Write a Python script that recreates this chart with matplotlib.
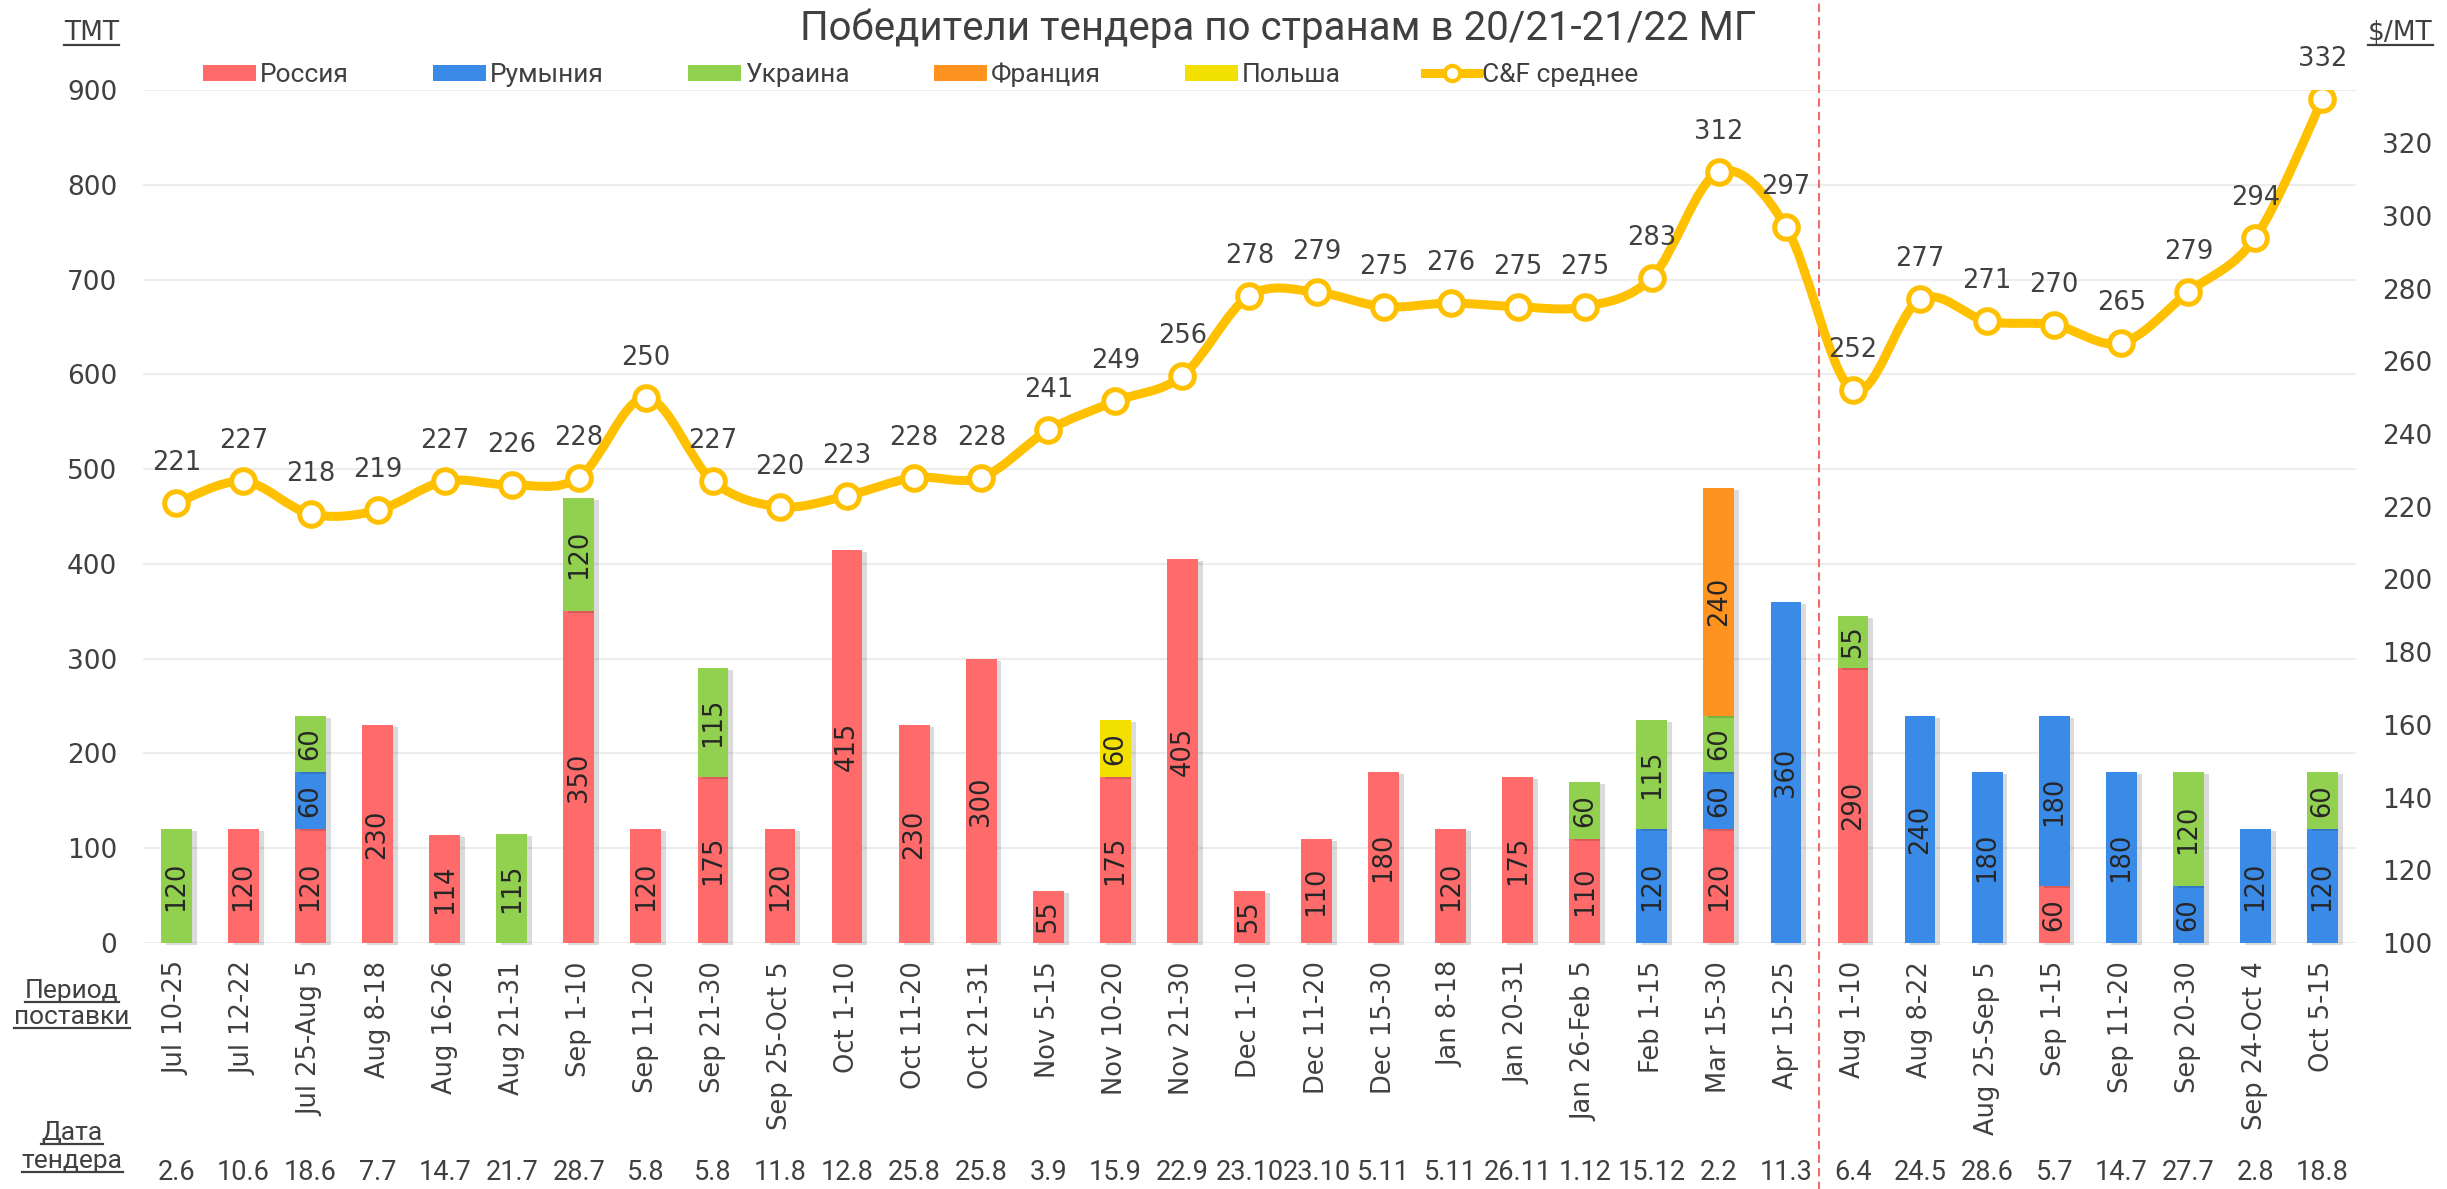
import numpy as np
import matplotlib
matplotlib.use("Agg")
import matplotlib.pyplot as plt
from matplotlib import patheffects as pe
from matplotlib.patches import Patch, PathPatch
from matplotlib.lines import Line2D
from matplotlib.path import Path
import matplotlib.transforms as mtransforms

# ---------------- data ----------------
periods = ["Jul 10-25", "Jul 12-22", "Jul 25-Aug 5", "Aug 8-18", "Aug 16-26", "Aug 21-31",
           "Sep 1-10", "Sep 11-20", "Sep 21-30", "Sep 25-Oct 5", "Oct 1-10", "Oct 11-20",
           "Oct 21-31", "Nov 5-15", "Nov 10-20", "Nov 21-30", "Dec 1-10", "Dec 11-20",
           "Dec 15-30", "Jan 8-18", "Jan 20-31", "Jan 26-Feb 5", "Feb 1-15", "Mar 15-30",
           "Apr 15-25", "Aug 1-10", "Aug 8-22", "Aug 25-Sep 5", "Sep 1-15", "Sep 11-20",
           "Sep 20-30", "Sep 24-Oct 4", "Oct 5-15"]
tender_dates = ["2.6", "10.6", "18.6", "7.7", "14.7", "21.7", "28.7", "5.8", "5.8", "11.8",
                "12.8", "25.8", "25.8", "3.9", "15.9", "22.9", "23.10", "23.10", "5.11", "5.11",
                "26.11", "1.12", "15.12", "2.2", "11.3", "6.4", "24.5", "28.6", "5.7", "14.7",
                "27.7", "2.8", "18.8"]
russia = [0, 120, 120, 230, 114, 0, 350, 120, 175, 120, 415, 230, 300, 55, 175, 405, 55, 110,
          180, 120, 175, 110, 0, 120, 0, 290, 0, 0, 60, 0, 0, 0, 0]
romania = [0, 0, 60, 0, 0, 0, 0, 0, 0, 0, 0, 0, 0, 0, 0, 0, 0, 0,
           0, 0, 0, 0, 120, 60, 360, 0, 240, 180, 180, 180, 60, 120, 120]
ukraine = [120, 0, 60, 0, 0, 115, 120, 0, 115, 0, 0, 0, 0, 0, 0, 0, 0, 0,
           0, 0, 0, 60, 115, 60, 0, 55, 0, 0, 0, 0, 120, 0, 60]
france = [0, 0, 0, 0, 0, 0, 0, 0, 0, 0, 0, 0, 0, 0, 0, 0, 0, 0,
          0, 0, 0, 0, 0, 240, 0, 0, 0, 0, 0, 0, 0, 0, 0]
poland = [0, 0, 0, 0, 0, 0, 0, 0, 0, 0, 0, 0, 0, 0, 60, 0, 0, 0,
          0, 0, 0, 0, 0, 0, 0, 0, 0, 0, 0, 0, 0, 0, 0]
cf_avg = [221, 227, 218, 219, 227, 226, 228, 250, 227, 220, 223, 228, 228, 241, 249, 256, 278,
          279, 275, 276, 275, 275, 283, 312, 297, 252, 277, 271, 270, 265, 279, 294, 332]

series_names = ["Россия", "Румыния", "Украина", "Франция", "Польша"]
series_vals = [russia, romania, ukraine, france, poland]
series_colors = ["#FF6B6B", "#3A8AE8", "#92D050", "#FF9320", "#F2E000"]
line_color = "#FFC000"
text_color = "#404040"
split_color = "#F26A6A"

plt.rcParams["font.family"] = ["DejaVu Sans"]
cond_font = ["Roboto", "DejaVu Sans"]

fig = plt.figure(figsize=(24.47, 11.89), dpi=100)
ax = fig.add_axes([0.0584, 0.2069, 0.9044, 0.7174])
ax2 = ax.twinx()

x = np.arange(len(periods))
bar_w = 0.46
shadow = [pe.SimplePatchShadow(offset=(3.5, -1.5), shadow_rgbFace="#000000", alpha=0.14),
          pe.Normal()]

bottom = np.zeros(len(periods))
for name, vals, col in zip(series_names, series_vals, series_colors):
    vals = np.array(vals, dtype=float)
    bars = ax.bar(x, vals, bar_w, bottom=bottom, color=col, zorder=3, label=name)
    for b, v in zip(bars, vals):
        b.set_path_effects(shadow)
        b.set_clip_on(False)
        if v > 0:
            ax.text(b.get_x() + b.get_width() / 2, b.get_y() + v / 2, f"{int(v)}",
                    rotation=90, ha="center", va="center", fontsize=18.5,
                    color="#262626", zorder=5)
    bottom += vals

ax.set_xlim(-0.5, len(periods) - 0.5)
ax.set_ylim(0, 900)
ax.set_yticks(np.arange(0, 901, 100))
ax.grid(axis="y", color="#EDEDED", lw=1.6, zorder=0)
ax.set_axisbelow(True)
ax.set_xticks(x)
ax.set_xticklabels(periods, rotation=90, fontsize=18.5, color=text_color)
ax.tick_params(axis="x", length=0, pad=13)
ax.tick_params(axis="y", length=0, labelsize=19, labelcolor=text_color, pad=18.5)
for s in ax.spines.values():
    s.set_visible(False)

# smoothed C&F line (Bezier through the data points)
pts = np.column_stack([x, cf_avg]).astype(float)
verts = [tuple(pts[0])]
codes = [Path.MOVETO]
n = len(pts)
for i in range(n - 1):
    p0 = pts[i - 1] if i > 0 else pts[i]
    p1 = pts[i]
    p2 = pts[i + 1]
    p3 = pts[i + 2] if i + 2 < n else pts[i + 1]
    c1 = p1 + (p2 - p0) / 6.0
    c2 = p2 - (p3 - p1) / 6.0
    verts += [tuple(c1), tuple(c2), tuple(p2)]
    codes += [Path.CURVE4] * 3
ax2.add_patch(PathPatch(Path(verts, codes), fill=False, edgecolor=line_color, lw=6.5,
                        capstyle="round", joinstyle="round", zorder=4))
ax2.plot(x, cf_avg, "o", ls="none", ms=17, mfc="white", mec=line_color, mew=3.6, zorder=5)
for xi, v in zip(x, cf_avg):
    ax2.annotate(f"{v}", (xi, v), xytext=(0, 40), textcoords="offset pixels",
                 ha="center", va="center", fontsize=18.5, color=text_color, zorder=6)
ax2.set_ylim(100, 334.6)
ax2.set_yticks(np.arange(100, 321, 20))
ax2.tick_params(axis="y", length=0, labelsize=19, labelcolor=text_color, pad=19)
for s in ax2.spines.values():
    s.set_visible(False)

# split line between seasons
ax.axvline(24.5, ymin=-0.29, ymax=1.11, color=split_color, lw=1.5,
           ls=(0, (4, 2.5)), clip_on=False, zorder=6)

# tender dates row
trans = mtransforms.blended_transform_factory(ax.transData, fig.transFigure)
for xi, d in zip(x, tender_dates):
    ax.text(xi, 1 - 1172 / 1189, d, transform=trans, ha="center", va="center",
            fontsize=19.5, color=text_color, family=cond_font)

# title & legend
fig.text(0.5225, 1 - 28 / 1189, "Победители тендера по странам в 20/21-21/22 МГ",
         ha="center", va="center", fontsize=29, color=text_color, family=cond_font)
handles = [Patch(facecolor=c, edgecolor="none") for c in series_colors]
handles.append(Line2D([0], [0], color=line_color, lw=6.5, marker="o", ms=11,
                      mfc="white", mec=line_color, mew=3))
labels = series_names + ["C&F среднее"]
fig.legend(handles, labels, loc="center left", bbox_to_anchor=(203 / 2447, 1 - 75 / 1189),
           ncol=6, frameon=False, prop={"family": cond_font, "size": 19},
           labelcolor=text_color, handlelength=2.0, handleheight=0.6,
           handletextpad=0.15, columnspacing=3.2, borderpad=0, borderaxespad=0)

# axis captions with underline
underlined = []
underlined.append(fig.text(119 / 2447, 1 - 33 / 1189, "ТМТ", ha="right", va="center",
                           fontsize=19, color=text_color))
underlined.append(fig.text(2368 / 2447, 1 - 33 / 1189, "$/МТ", ha="left", va="center",
                           fontsize=19, color=text_color))
for txt, yy in [("Период", 991), ("поставки", 1017), ("Дата", 1133), ("тендера", 1161)]:
    underlined.append(fig.text(72 / 2447, 1 - yy / 1189, txt, ha="center", va="center",
                               fontsize=19, color=text_color, family=cond_font))

fig.canvas.draw()
r = fig.canvas.get_renderer()
inv = fig.transFigure.inverted()
for t in underlined:
    bb = t.get_window_extent(r)
    (x0, y0), (x1, _) = inv.transform([(bb.x0, bb.y0 + 1), (bb.x1, bb.y0 + 1)])
    fig.add_artist(Line2D([x0, x1], [y0, y0], transform=fig.transFigure,
                          color=text_color, lw=1.6))

fig.savefig("out.png", dpi=100, facecolor="white")
